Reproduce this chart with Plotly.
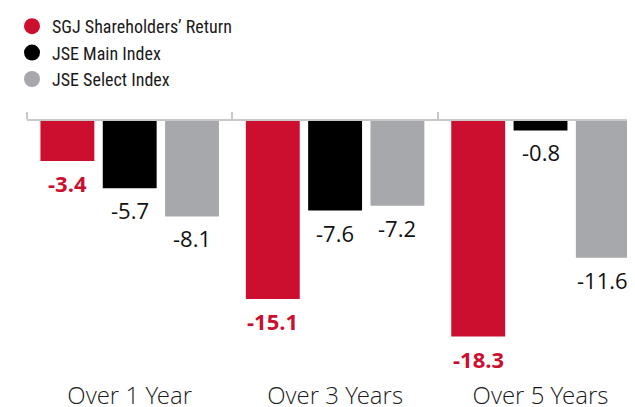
import plotly.graph_objects as go

categories = ["Over 1 Year", "Over 3 Years", "Over 5 Years"]
series_names = ["SGJ Shareholders’ Return", "JSE Main Index", "JSE Select Index"]
sgj_return = [-3.4, -15.1, -18.3]
jse_main = [-5.7, -7.6, -0.8]
jse_select = [-8.1, -7.2, -11.6]

colors = ["#CC0F2E", "#000000", "#A7A8AB"]
values = [sgj_return, jse_main, jse_select]

BARGAP = 0.09
BARGROUPGAP = 0.135

fig = go.Figure()
for name, vals, col in zip(series_names, values, colors):
    fig.add_trace(go.Bar(x=categories, y=vals, name=name, marker_color=col,
                         marker_line_width=0, showlegend=False, xaxis="x", yaxis="y"))
# legend entries with round markers
for name, col in zip(series_names, colors):
    fig.add_trace(go.Scatter(x=[None], y=[None], mode="markers", name=name,
                             marker=dict(symbol="circle", size=17, color=col)))
# dummy trace for bottom category labels
fig.add_trace(go.Scatter(x=categories, y=[None] * 3, mode="markers", showlegend=False,
                         xaxis="x2", yaxis="y", hoverinfo="skip"))

# value labels below the bars
slot = (1 - BARGAP) / 3
annotations = []
for si, (vals, col) in enumerate(zip(values, colors)):
    for ci, v in enumerate(vals):
        bold = si == 0
        annotations.append(dict(
            x=ci + (si - 1) * slot, y=v, xref="x", yref="y",
            text=f"<b>{v}</b>" if bold else f"{v}",
            showarrow=False, yanchor="top", yshift=-5,
            font=dict(family="Open Sans, sans-serif", size=22,
                      color=colors[0] if bold else "#111111"),
        ))

xrange = [-0.5, 2.46]
fig.update_layout(
    width=627, height=399,
    margin=dict(l=19, r=0, t=113, b=28, autoexpand=False),
    paper_bgcolor="white", plot_bgcolor="white",
    barmode="group", bargap=BARGAP, bargroupgap=BARGROUPGAP,
    annotations=annotations,
    xaxis=dict(type="category", categoryarray=categories, categoryorder="array",
               range=xrange, side="top", showline=True, linecolor="#C8C8C8",
               linewidth=1.5, ticks="outside", tickson="boundaries", ticklen=7,
               tickcolor="#C8C8C8", tickwidth=1.5, showticklabels=False,
               showgrid=False, zeroline=False, fixedrange=True, automargin=False),
    xaxis2=dict(type="category", categoryarray=categories, categoryorder="array",
                range=xrange, overlaying="x", side="bottom", anchor="y",
                showline=False, ticks="", showgrid=False, zeroline=False,
                tickangle=0, automargin=False,
                tickfont=dict(family="Open Sans Light, Open Sans, sans-serif",
                              size=24, color="#1a1a1a")),
    yaxis=dict(range=[-21.9, 0], visible=False, showgrid=False, zeroline=False,
               automargin=False),
    legend=dict(xref="container", yref="container", x=4 / 627, y=1.0,
                xanchor="left", yanchor="top",
                font=dict(family="Roboto Condensed, Roboto, sans-serif",
                          size=18, color="#1a1a1a"),
                bgcolor="rgba(0,0,0,0)", itemsizing="trace"),
)

fig.write_html("out.html")
